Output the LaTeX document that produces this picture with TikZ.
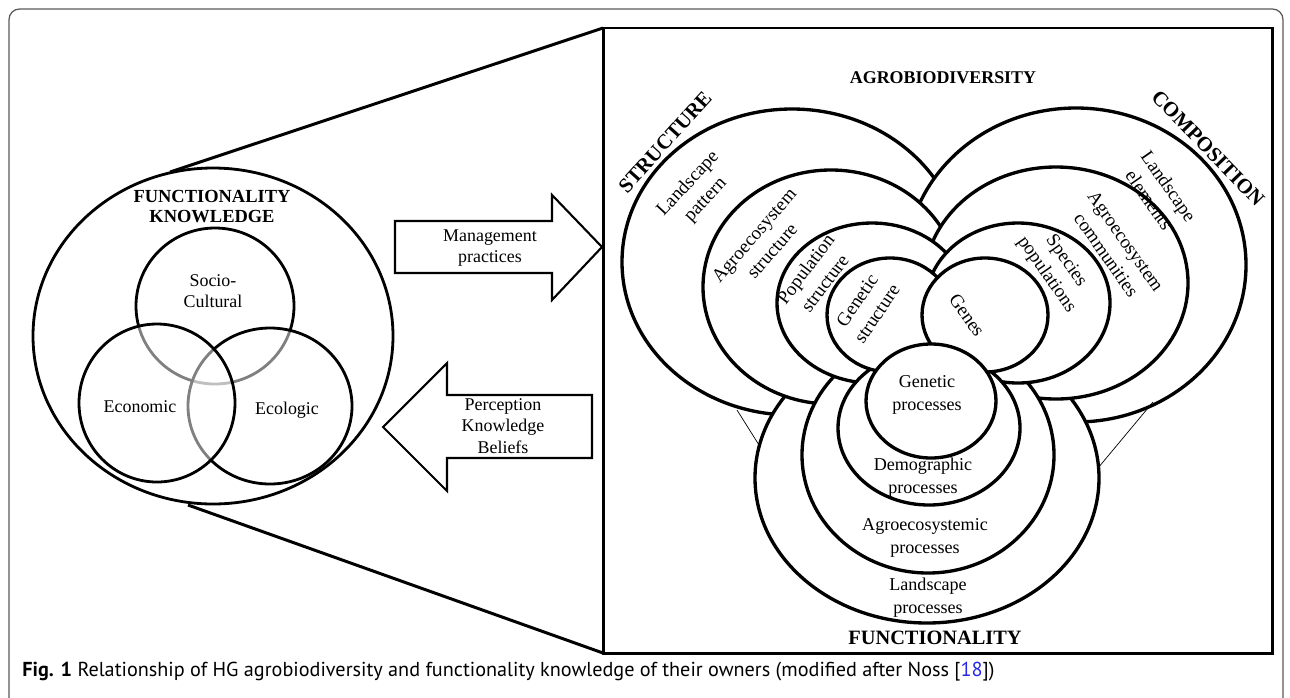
\documentclass[tikz,border=0pt]{standalone}
\usepackage{fontspec}
\setmainfont{Liberation Serif}
\newfontfamily\capfont{PT Sans}
\usetikzlibrary{positioning}
\definecolor{framegray}{gray}{0.35}
\definecolor{refblue}{RGB}{40,40,230}

\tikzset{
  lobe/.style={draw=black, fill=white, line width=1.9pt},
  ring/.style={draw=black, line width=1.6pt},
  ghost/.style={draw=black, fill=white, fill opacity=0.5, line width=1.6pt},
  blockarrow/.style={draw=black, fill=white, line width=1.2pt},
  lbl/.style={inner sep=0pt, align=center, font=\fontsize{10.2}{12.2}\selectfont},
  lowlbl/.style={lbl, font=\fontsize{10.3}{13}\selectfont},
  tiltlbl/.style={lbl, font=\fontsize{10.8}{13.6}\selectfont},
  head/.style={inner sep=0pt, align=center, font=\fontsize{10.5}{11.4}\selectfont\bfseries},
  bighead/.style={head, font=\fontsize{11.8}{13}\selectfont\bfseries},
}

\begin{document}
\begin{tikzpicture}[x=0.02cm, y=-0.02cm]
\useasboundingbox (0,0) rectangle (1290,697);
% frame of the figure
\draw[framegray, line width=0.7pt, rounded corners=6pt] (9,760) -- (9,9) -- (1283,9) -- (1283,760);

% zoom box
\coordinate (boxNW) at (603,28);
\coordinate (boxSE) at (1272,653);
\coordinate (boxSW) at (603,653);
\draw[line width=1.7pt] (boxNW) rectangle (boxSE);

% knowledge side
\coordinate (kTop) at (170,172);
\coordinate (kBot) at (188,505);
\draw[line width=1.7pt] (kTop) -- (boxNW);
\draw[line width=1.7pt] (kBot) -- (boxSW);
\draw[ring] (213,336) ellipse [x radius=180, y radius=168];
\draw[ring] (215,306) ellipse [x radius=79, y radius=78];
\draw[ghost] (270,406) ellipse [x radius=82, y radius=78];
\draw[ghost] (157,403) ellipse [x radius=78, y radius=79];
\node[head] (fk) at (212,207) {FUNCTIONALITY\\KNOWLEDGE};
\node[lbl] (socio) at (213,291) {Socio-\\Cultural};
\node[lbl] (econ) at (140,407) {Economic};
\node[lbl] (ecol) at (287,410) {Ecologic};

% block arrows
\draw[blockarrow] (395,221) -- (552,221) -- (552,195) -- (602,247) -- (552,300) -- (552,273) -- (395,273) -- cycle;
\draw[blockarrow] (592,395) -- (447,395) -- (447,363) -- (383,427) -- (447,491) -- (447,458) -- (592,458) -- cycle;
\node[lbl] (mgmt) at (490,248) {Management\\practices};
\node[lbl] (perc) at (503,426) {Perception\\Knowledge\\Beliefs};

% agrobiodiversity, outside in
\draw[lobe] (792,262) ellipse [x radius=170, y radius=153];
\draw[lobe] (1076,265) ellipse [x radius=170, y radius=157];
\draw[lobe] (927,478) ellipse [x radius=172, y radius=145];
\draw[lobe] (831,287) ellipse [x radius=128, y radius=117];
\draw[lobe] (1056,283) ellipse [x radius=132, y radius=116];
\draw[lobe] (928,455) ellipse [x radius=126, y radius=118];
\draw[lobe] (872,303) ellipse [x radius=95, y radius=80];
\draw[lobe] (1018,303) ellipse [x radius=92, y radius=80];
\draw[lobe] (929,428) ellipse [x radius=91, y radius=77];
\draw[lobe] (890,315) ellipse [x radius=63, y radius=57];
\draw[lobe] (985,315) ellipse [x radius=63, y radius=57];
\draw[lobe] (931,401) ellipse [x radius=65, y radius=57];
\draw[thin] (737,410) -- (759,445);
\draw[thin] (1153,402) -- (1098,468);

\node[head, font=\fontsize{10.2}{11}\selectfont\bfseries] (agro) at (943,78) {AGROBIODIVERSITY};
\node[bighead, rotate=48] (struc) at (665,142) {STRUCTURE};
\node[bighead, rotate=-46] (comp) at (1208,148) {COMPOSITION};
\node[bighead, font=\fontsize{11.6}{13}\selectfont\bfseries] (func) at (935,638) {FUNCTIONALITY};
\node[tiltlbl, rotate=47] (land) at (697,192) {Landscape\\pattern};
\node[tiltlbl, rotate=49] (agst) at (763,243) {Agroecosystem\\structure};
\node[tiltlbl, rotate=53] (popst) at (815,276) {Population\\structure};
\node[tiltlbl, rotate=56] (genst) at (867,307) {Genetic\\structure};
\node[tiltlbl, rotate=-55] (genes) at (967,315) {Genes};
\node[tiltlbl, rotate=-55] (spec) at (1056,268) {Species\\populations};
\node[tiltlbl, rotate=-55] (agcom) at (1116,248) {Agroecosystem\\communities};
\node[tiltlbl, rotate=-55] (landel) at (1159,193) {Landscape\\elements};
\node[lowlbl] (genpr) at (927,395) {Genetic\\processes};
\node[lowlbl] (dempr) at (923,478) {Demographic\\processes};
\node[lowlbl] (agpr) at (925,538) {Agroecosystemic\\processes};
\node[lowlbl] (landpr) at (928,598) {Landscape\\processes};

% caption
\node[anchor=west, inner sep=0pt, font=\capfont\fontsize{11.5}{13}\selectfont] (cap) at (22,672)
  {\textbf{Fig. 1} Relationship of HG agrobiodiversity and functionality knowledge of their owners (modified after Noss [\textcolor{refblue}{18}])};
\end{tikzpicture}
\end{document}
